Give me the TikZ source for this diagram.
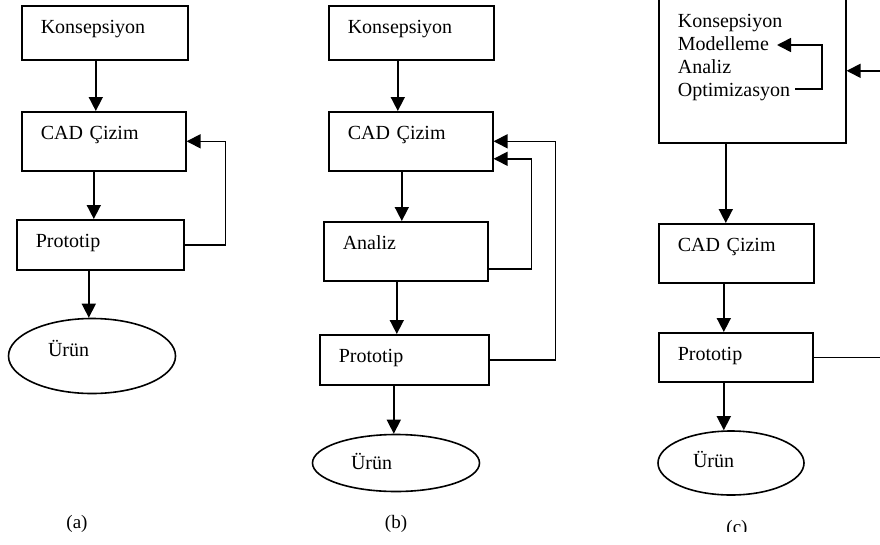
\documentclass[tikz,border=0pt]{standalone}
\usepackage{fontspec}
\setmainfont{Liberation Serif}
\usetikzlibrary{arrows.meta,shapes.geometric}

\tikzset{
  kutu/.style 2 args={draw, line width=1.6pt, anchor=north west, inner xsep=19pt, inner ysep=0pt,
    align=left, text width=#1, text height=28pt, text depth=#2},
  elips/.style={draw, ellipse, line width=1.6pt, inner sep=0pt, align=left, text height=14pt},
  ok/.style={line width=1.6pt, -{Triangle[length=14pt,width=14pt]}},
  etiket/.style={font=\fontsize{19}{22}\selectfont}
}

\begin{document}
\begin{tikzpicture}[x=1pt, y=-1pt, font=\fontsize{20}{23}\selectfont]

    \useasboundingbox (0,0) rectangle (880,544);

    % (a)
    \node [kutu={128pt}{26pt}] (a1) at (21,5) {Konsepsiyon};
    \node [kutu={126pt}{31pt}] (a2) at (21,111) {CAD Çizim};
    \node [kutu={129pt}{22pt}] (a3) at (16,219) {Prototip};
    \node [elips, minimum width=167pt, minimum height=75pt, text width=88pt, text depth=13pt] (a4) at (92,356) {Ürün};

    \draw [ok] ([xshift=-9pt]a1.south) coordinate (u) -- (u |- a2.north);
    \draw [ok] ([xshift=-10pt]a2.south) coordinate (u) -- (u |- a3.north);
    \draw [ok] ([xshift=-11.5pt]a3.south) coordinate (u) -- (u |- a4.north);
    \draw [ok] (a3.east) -- ++(41,0) |- (a2.east);

    \node [etiket] (la) at (77,524) {(a)};

    % (b)
    \node [kutu={127pt}{26pt}] (b1) at (328,5) {Konsepsiyon};
    \node [kutu={126pt}{31pt}] (b2) at (328,111) {CAD Çizim};
    \node [kutu={126pt}{31pt}] (b3) at (323,221) {Analiz};
    \node [kutu={131pt}{22pt}] (b4) at (319,334) {Prototip};
    \node [elips, minimum width=167pt, minimum height=57pt, text width=90pt, text depth=1pt] (b5) at (396,463) {Ürün};

    \draw [ok] ([xshift=-13.5pt]b1.south) coordinate (u) -- (u |- b2.north);
    \draw [ok] ([xshift=-9pt]b2.south) coordinate (u) -- (u |- b3.north);
    \draw [ok] ([xshift=-9pt]b3.south) coordinate (u) -- (u |- b4.north);
    \draw [ok] ([xshift=-10.5pt]b4.south) coordinate (u) -- (u |- b5.north);
    \draw [ok] ([yshift=-17.5pt]b3.east) -- ++(43,0) |- ([yshift=-17.5pt]b2.east);
    \draw [ok] (b4.east) -- ++(66,0) |- (b2.east);

    \node [etiket] (lb) at (396,524) {(b)};

    % (c)
    \node [kutu={149pt}{115pt}, text height=32pt] (c1) at (658,-5)
        {Konsepsiyon\\ Modelleme\\ Analiz\\ Optimizasyon};
    \node [kutu={117pt}{31pt}] (c2) at (658,223) {CAD Çizim};
    \node [kutu={116pt}{21pt}] (c3) at (658,332) {Prototip};
    \node [elips, minimum width=146pt, minimum height=64pt, text width=76pt, text depth=6pt] (c4) at (731,463) {Ürün};

    \coordinate (opt) at (795,89);
    \coordinate (mod) at (777,45);
    \draw [ok] (opt) -- ++(27,0) |- (mod);

    \draw [ok] ([xshift=-26.5pt]c1.south) coordinate (u) -- (u |- c2.north);
    \draw [ok] ([xshift=-12.5pt]c2.south) coordinate (u) -- (u |- c3.north);
    \draw [ok] ([xshift=-12pt]c3.south) coordinate (u) -- (u |- c4.north);
    \draw [ok] (c3.east) -- ++(90,0) |- ([yshift=-1.5pt]c1.east);

    \begin{scope}
        \clip (700,500) rectangle (780,531);
        \node [etiket] (lc) at (737,529) {(c)};
    \end{scope}

\end{tikzpicture}
\end{document}
